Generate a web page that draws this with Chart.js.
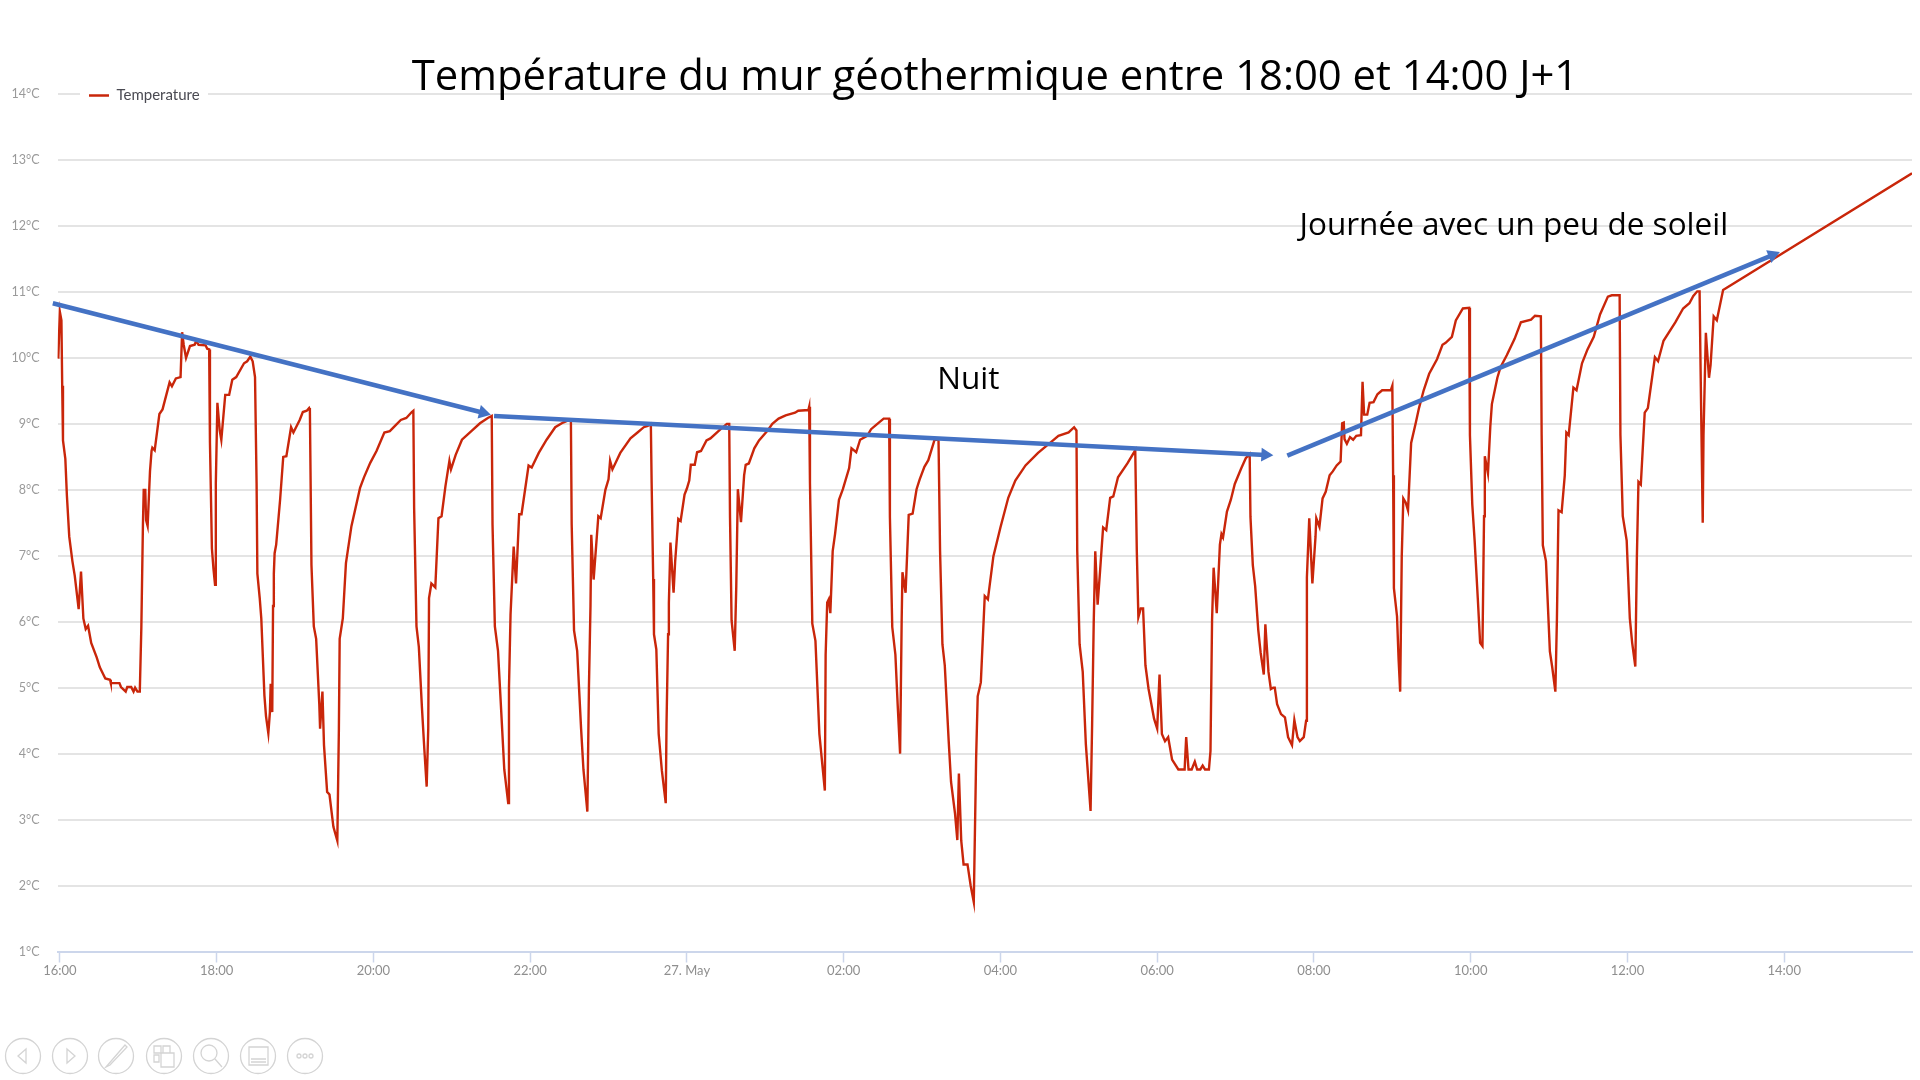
<!DOCTYPE html>
<html lang="fr">
<head>
<meta charset="utf-8">
<title>Température du mur géothermique</title>
<script src="https://cdn.jsdelivr.net/npm/chart.js@4"></script>
<style>
    html, body { margin: 0; padding: 0; background: #fff; }
    canvas { display: block; }
</style>
</head>
<body>
<canvas id="wallChart" width="1920" height="1080"></canvas>
<script>
// Hours after 16:00 and the temperature read at each of them
const hours = [
    -0.02, 0.00, 0.02, 0.03, 0.04, 0.07, 0.09, 0.12, 0.16, 0.19, 0.24, 0.27, 0.30, 0.33, 0.36, 0.40, 0.47, 0.51, 0.58, 0.64,
    0.65, 0.76, 0.78, 0.84, 0.86, 0.91, 0.94, 0.96, 0.99, 1.02, 1.04, 1.06, 1.07, 1.09, 1.10, 1.12, 1.15, 1.17, 1.18, 1.21,
    1.27, 1.31, 1.40, 1.43, 1.48, 1.54, 1.56, 1.58, 1.61, 1.66, 1.72, 1.74, 1.77, 1.86, 1.88, 1.905, 1.915, 1.94, 1.96, 1.98,
    1.99, 2.01, 2.04, 2.06, 2.11, 2.16, 2.20, 2.25, 2.35, 2.39, 2.43, 2.46, 2.49, 2.51, 2.52, 2.55, 2.57, 2.61, 2.63, 2.66,
    2.68, 2.69, 2.71, 2.72, 2.73, 2.74, 2.76, 2.81, 2.85, 2.89, 2.95, 2.98, 3.06, 3.10, 3.15, 3.18, 3.19, 3.21, 3.24, 3.27,
    3.31, 3.32, 3.35, 3.37, 3.41, 3.44, 3.49, 3.54, 3.56, 3.57, 3.61, 3.65, 3.72, 3.83, 3.88, 3.96, 4.04, 4.14, 4.21, 4.26,
    4.35, 4.42, 4.49, 4.51, 4.52, 4.55, 4.58, 4.62, 4.65, 4.68, 4.70, 4.71, 4.74, 4.79, 4.83, 4.87, 4.92, 4.97, 4.99, 5.05,
    5.13, 5.25, 5.36, 5.46, 5.51, 5.52, 5.55, 5.59, 5.64, 5.67, 5.72, 5.73, 5.75, 5.79, 5.82, 5.86, 5.89, 5.98, 6.02, 6.11,
    6.21, 6.32, 6.42, 6.50, 6.52, 6.53, 6.56, 6.60, 6.65, 6.68, 6.73, 6.75, 6.77, 6.78, 6.81, 6.87, 6.90, 6.96, 7.00, 7.02,
    7.05, 7.15, 7.28, 7.37, 7.45, 7.50, 7.54, 7.55, 7.57, 7.58, 7.61, 7.64, 7.68, 7.73, 7.74, 7.76, 7.77, 7.79, 7.83, 7.85,
    7.89, 7.92, 7.97, 8.00, 8.03, 8.05, 8.10, 8.13, 8.18, 8.25, 8.30, 8.43, 8.51, 8.54, 8.55, 8.57, 8.61, 8.63, 8.65, 8.69,
    8.73, 8.75, 8.79, 8.86, 8.92, 9.03, 9.09, 9.17, 9.26, 9.38, 9.42, 9.55, 9.56, 9.57, 9.60, 9.64, 9.69, 9.76, 9.77, 9.79,
    9.81, 9.83, 9.86, 9.89, 9.94, 9.99, 10.07, 10.10, 10.16, 10.21, 10.30, 10.35, 10.43, 10.51, 10.58, 10.59, 10.62, 10.66, 10.69, 10.72,
    10.74, 10.75, 10.79, 10.83, 10.88, 10.93, 10.97, 11.03, 11.08, 11.16, 11.21, 11.23, 11.26, 11.29, 11.34, 11.37, 11.42, 11.45, 11.47, 11.50,
    11.53, 11.58, 11.62, 11.66, 11.69, 11.71, 11.75, 11.80, 11.84, 11.91, 12.00, 12.10, 12.19, 12.32, 12.48, 12.66, 12.74, 12.87, 12.94, 12.97,
    12.98, 13.01, 13.05, 13.09, 13.15, 13.17, 13.19, 13.21, 13.24, 13.27, 13.31, 13.35, 13.40, 13.44, 13.50, 13.62, 13.72, 13.74, 13.76, 13.79,
    13.82, 13.85, 13.89, 13.96, 14.00, 14.03, 14.06, 14.10, 14.14, 14.19, 14.27, 14.35, 14.37, 14.40, 14.44, 14.48, 14.51, 14.55, 14.58, 14.61,
    14.66, 14.68, 14.70, 14.72, 14.76, 14.80, 14.82, 14.84, 14.89, 14.94, 14.99, 15.07, 15.13, 15.18, 15.19, 15.22, 15.25, 15.29, 15.32, 15.36,
    15.38, 15.42, 15.45, 15.48, 15.50, 15.53, 15.58, 15.63, 15.67, 15.72, 15.75, 15.79, 15.82, 15.87, 15.90, 15.91, 15.94, 15.98, 16.02, 16.03,
    16.07, 16.11, 16.15, 16.20, 16.24, 16.29, 16.34, 16.36, 16.38, 16.39, 16.42, 16.46, 16.50, 16.54, 16.60, 16.62, 16.64, 16.68, 16.71, 16.76,
    16.81, 16.87, 16.98, 17.00, 17.01, 17.02, 17.06, 17.08, 17.10, 17.12, 17.14, 17.17, 17.20, 17.24, 17.30, 17.34, 17.40, 17.47, 17.57, 17.64,
    17.68, 17.76, 17.81, 17.90, 17.98, 17.99, 18.02, 18.05, 18.09, 18.12, 18.15, 18.17, 18.18, 18.22, 18.25, 18.27, 18.34, 18.38, 18.46, 18.56,
    18.64, 18.77, 18.82, 18.895, 18.905, 18.92, 18.96, 19.01, 19.04, 19.08, 19.10, 19.12, 19.16, 19.20, 19.22, 19.25, 19.31, 19.35, 19.42, 19.49,
    19.57, 19.65, 19.75, 19.80, 19.90, 19.91, 19.94, 19.99, 20.03, 20.06, 20.10, 20.12, 20.14, 20.17, 20.22, 20.26, 20.35, 20.39, 20.46, 20.61,
    20.71, 20.79, 20.84, 20.89, 20.92, 20.93, 20.96, 20.97, 21.00, 21.04, 21.06, 21.10, 21.14, 21.22, 23.63
];
const temperature = [
    9.99, 10.70, 10.57, 9.58, 8.75, 8.47, 7.91, 7.29, 6.92, 6.70, 6.19, 6.76, 6.05, 5.89, 5.94, 5.68, 5.46, 5.31, 5.14, 5.12,
    5.07, 5.07, 5.01, 4.94, 5.01, 5.01, 4.94, 5.00, 4.94, 4.94, 5.93, 7.48, 8.00, 8.00, 7.54, 7.45, 8.28, 8.59, 8.64, 8.60,
    9.15, 9.22, 9.63, 9.57, 9.69, 9.71, 10.39, 10.20, 10.00, 10.18, 10.20, 10.26, 10.20, 10.19, 10.14, 10.13, 8.72, 7.11, 6.80, 6.56,
    8.10, 9.32, 8.90, 8.76, 9.44, 9.44, 9.67, 9.71, 9.92, 9.95, 10.02, 9.95, 9.71, 8.10, 6.73, 6.36, 6.05, 4.88, 4.57, 4.31,
    4.63, 5.06, 4.63, 6.24, 6.73, 7.04, 7.17, 7.85, 8.50, 8.51, 8.95, 8.87, 9.06, 9.18, 9.20, 9.24, 9.21, 6.86, 5.93, 5.74,
    4.75, 4.38, 4.94, 4.13, 3.42, 3.38, 2.89, 2.68, 4.38, 5.74, 6.05, 6.89, 7.45, 8.03, 8.19, 8.41, 8.59, 8.87, 8.89, 8.95,
    9.06, 9.09, 9.18, 9.20, 7.72, 5.93, 5.62, 4.69, 4.07, 3.50, 4.38, 6.36, 6.58, 6.52, 7.57, 7.60, 8.06, 8.44, 8.31, 8.53,
    8.76, 8.89, 9.01, 9.09, 9.12, 7.48, 5.93, 5.56, 4.44, 3.76, 3.25, 5.00, 6.11, 7.14, 6.58, 7.63, 7.63, 8.37, 8.34, 8.56,
    8.76, 8.95, 9.02, 9.06, 9.06, 7.48, 5.87, 5.56, 4.38, 3.76, 3.12, 5.00, 6.24, 7.32, 6.64, 7.60, 7.57, 8.00, 8.16, 8.44,
    8.31, 8.56, 8.78, 8.87, 8.95, 8.97, 9.00, 8.11, 6.65, 5.81, 5.58, 4.30, 3.75, 3.25, 4.45, 5.81, 6.28, 7.20, 6.44, 6.91,
    7.56, 7.53, 7.93, 8.02, 8.14, 8.38, 8.38, 8.57, 8.59, 8.75, 8.78, 8.92, 9.00, 9.00, 7.59, 6.02, 5.56, 6.54, 8.01, 7.51,
    8.22, 8.38, 8.40, 8.63, 8.75, 8.90, 9.00, 9.08, 9.13, 9.17, 9.20, 9.21, 9.26, 8.11, 5.97, 5.71, 4.30, 3.44, 5.50, 6.29,
    6.34, 6.13, 7.07, 7.33, 7.85, 8.01, 8.33, 8.63, 8.57, 8.76, 8.82, 8.92, 9.00, 9.08, 9.08, 7.59, 5.92, 5.50, 4.72, 4.00,
    6.02, 6.75, 6.44, 7.62, 7.64, 8.01, 8.16, 8.35, 8.45, 8.76, 8.76, 7.07, 5.66, 5.34, 4.19, 3.57, 3.10, 2.69, 3.70, 2.68,
    2.32, 2.32, 2.00, 1.75, 3.93, 4.87, 5.08, 6.39, 6.34, 6.99, 7.43, 7.88, 8.14, 8.37, 8.56, 8.74, 8.82, 8.87, 8.95, 8.90,
    7.07, 5.66, 5.24, 4.14, 3.13, 4.45, 5.97, 7.07, 6.26, 6.75, 7.43, 7.39, 7.88, 7.90, 8.19, 8.40, 8.60, 7.07, 6.07, 6.20,
    6.20, 5.34, 4.98, 4.53, 4.38, 5.20, 4.30, 4.19, 4.25, 3.91, 3.76, 3.76, 4.25, 3.76, 3.76, 3.88, 3.76, 3.76, 3.82, 3.76,
    3.76, 4.04, 6.02, 6.82, 6.13, 7.17, 7.33, 7.28, 7.67, 7.85, 8.09, 8.32, 8.48, 8.54, 7.59, 6.86, 6.54, 5.87, 5.53, 5.20,
    5.96, 5.24, 4.98, 5.00, 5.00, 4.75, 4.60, 4.55, 4.25, 4.13, 4.51, 4.25, 4.19, 4.25, 4.50, 6.67, 7.57, 6.58, 7.29, 7.57,
    7.44, 7.87, 7.97, 8.22, 8.28, 8.37, 8.43, 9.01, 9.02, 8.77, 8.70, 8.80, 8.76, 8.82, 8.83, 9.64, 9.14, 9.14, 9.32, 9.33,
    9.45, 9.51, 9.51, 9.58, 8.22, 6.51, 6.08, 5.43, 4.94, 6.98, 7.87, 7.81, 7.69, 8.71, 9.02, 9.24, 9.51, 9.76, 9.98, 10.20,
    10.23, 10.32, 10.57, 10.75, 10.76, 8.83, 7.78, 7.23, 6.36, 5.68, 5.63, 7.60, 8.51, 8.25, 8.96, 9.30, 9.70, 9.86, 10.04, 10.29,
    10.54, 10.58, 10.64, 10.63, 8.83, 7.16, 6.92, 5.55, 5.31, 4.94, 6.05, 7.69, 7.66, 8.22, 8.87, 8.83, 9.55, 9.51, 9.92, 10.13,
    10.32, 10.66, 10.93, 10.95, 10.95, 8.83, 7.60, 7.23, 6.05, 5.68, 5.32, 6.98, 8.12, 8.08, 9.17, 9.24, 10.01, 9.95, 10.26, 10.54,
    10.75, 10.83, 10.94, 11.01, 11.01, 10.07, 7.50, 8.83, 10.38, 9.70, 9.89, 10.63, 10.57, 11.03, 12.80
];

// Blue arrows, start and end of each
const nightStartHours = [-0.09, 5.40];
const nightStartTemps = [10.83, 9.17];
const nightEndHours = [5.54, 15.38];
const nightEndTemps = [9.12, 8.53];
const dayHours = [15.66, 21.85];
const dayTemps = [8.52, 11.56];

const tickHours = [0, 2, 4, 6, 8, 10, 12, 14, 16, 18, 20, 22];
const tickLabels = ['16:00', '18:00', '20:00', '22:00', '27. May', '02:00', '04:00', '06:00', '08:00', '10:00', '12:00', '14:00'];

const noteTexts = ['Nuit', 'Journée avec un peu de soleil'];
const noteHours = [11.59, 18.55];
const noteTemps = [9.66, 12.00];

const toolbarX = [23, 70, 116, 164, 211, 258, 305];

const RED = '#c9260a';
const BLUE = '#4472c4';
const SLIDE_FONT = '"Open Sans", sans-serif';
const CHART_FONT = 'Lato, sans-serif';

function toPoints(xs, ys) {
    return xs.map((x, i) => ({ x: x, y: ys[i] }));
}

function arrowDataset(xs, ys, rotation) {
    return {
        label: 'arrow',
        data: toPoints(xs, ys),
        borderColor: BLUE,
        backgroundColor: BLUE,
        borderWidth: 4.5,
        pointStyle: 'triangle',
        pointRadius: [0, 8],
        pointBorderWidth: 0,
        pointRotation: rotation,
        pointBackgroundColor: BLUE,
        clip: false,
        order: 0
    };
}

// Toolbar of the slide show, bottom left
function drawToolbar(ctx) {
    ctx.save();
    ctx.strokeStyle = '#d4d4d4';
    ctx.lineWidth = 1.3;
    const y = 1056;
    toolbarX.forEach((x, i) => {
        ctx.beginPath();
        ctx.ellipse(x, y, 17.5, 17.5, 0, 0, Math.PI * 2);
        ctx.stroke();
        ctx.beginPath();
        if (i === 0) {
            ctx.moveTo(x + 3, y - 7); ctx.lineTo(x - 5, y); ctx.lineTo(x + 3, y + 7); ctx.closePath();
        } else if (i === 1) {
            ctx.moveTo(x - 3, y - 7); ctx.lineTo(x + 5, y); ctx.lineTo(x - 3, y + 7); ctx.closePath();
        } else if (i === 2) {
            ctx.moveTo(x - 10, y + 11); ctx.lineTo(x + 9, y - 11); ctx.lineTo(x + 11, y - 9); ctx.lineTo(x - 6, y + 9); ctx.closePath();
        } else if (i === 3) {
            ctx.rect(x - 10, y - 10, 7, 7); ctx.rect(x - 1, y - 10, 7, 7); ctx.rect(x - 10, y - 1, 5, 7); ctx.rect(x - 3, y - 3, 13, 14);
        } else if (i === 4) {
            ctx.arc(x - 2, y - 3, 8, 0, Math.PI * 2); ctx.moveTo(x + 4, y + 3); ctx.lineTo(x + 11, y + 11);
        } else if (i === 5) {
            ctx.rect(x - 9, y - 9, 19, 18); ctx.moveTo(x - 7, y + 3); ctx.lineTo(x + 8, y + 3); ctx.moveTo(x - 7, y + 6); ctx.lineTo(x + 8, y + 6);
        } else {
            [-6, 0, 6].forEach(d => { ctx.moveTo(x + d + 2, y); ctx.arc(x + d, y, 2, 0, Math.PI * 2); });
        }
        ctx.stroke();
    });
    ctx.restore();
}

const slidePlugin = {
    id: 'slidePlugin',
    afterLayout(chart) {
        // title and legend sit over the plot in the original
        const title = chart.titleBlock;
        title.left += 35;
        title.right += 35;
        title.top += 9;
        title.bottom += 9;
        const legend = chart.legend;
        const w = legend.width;
        legend.left = 79;
        legend.right = 79 + w;
        legend.top = 78;
        legend.bottom = 78 + legend.height;
    },
    beforeDatasetsDraw(chart) {
        const ctx = chart.ctx;
        ctx.save();
        ctx.fillStyle = '#fff';
        ctx.fillRect(80, 86, 128, 18);
        ctx.restore();
        chart.legend.draw();
    },
    afterDraw(chart) {
        const ctx = chart.ctx;
        ctx.save();
        ctx.font = '31.5px ' + SLIDE_FONT;
        ctx.fillStyle = '#000';
        ctx.textAlign = 'center';
        ctx.textBaseline = 'middle';
        noteTexts.forEach((text, i) => {
            ctx.fillText(text, chart.scales.x.getPixelForValue(noteHours[i]), chart.scales.y.getPixelForValue(noteTemps[i]));
        });
        ctx.restore();
        drawToolbar(ctx);
    }
};

const chart = new Chart(document.getElementById('wallChart').getContext('2d'), {
    type: 'line',
    data: {
        datasets: [
            arrowDataset(nightStartHours, nightStartTemps, 104),
            arrowDataset(nightEndHours, nightEndTemps, 93),
            arrowDataset(dayHours, dayTemps, 68),
            {
                label: 'Temperature',
                data: toPoints(hours, temperature),
                borderColor: RED,
                backgroundColor: RED,
                borderWidth: 2.4,
                pointRadius: 0,
                tension: 0,
                order: 1
            }
        ]
    },
    options: {
        responsive: false,
        animation: false,
        layout: { padding: { top: 44, left: 0, right: 0, bottom: 0 } },
        plugins: {
            title: {
                display: true,
                text: 'Température du mur géothermique entre 18:00 et 14:00 J+1',
                color: '#000',
                padding: 0,
                font: { family: SLIDE_FONT, size: 41.8, weight: 'normal', lineHeight: 1.2 }
            },
            legend: {
                position: 'chartArea',
                align: 'start',
                labels: {
                    color: '#4a4a52',
                    font: { family: CHART_FONT, size: 15 },
                    usePointStyle: true,
                    pointStyle: 'line',
                    pointStyleWidth: 20,
                    boxHeight: 2,
                    padding: 10,
                    filter: item => item.text === 'Temperature'
                }
            },
            tooltip: { enabled: false }
        },
        scales: {
            x: {
                type: 'linear',
                min: -0.03,
                max: 23.63,
                afterBuildTicks: scale => { scale.ticks = tickHours.map(v => ({ value: v })); },
                afterFit: scale => { scale.height = 128.5; },
                grid: { drawOnChartArea: false, color: '#ccd6eb', tickLength: 11, tickWidth: 1.5 },
                border: { color: '#ccd6eb', width: 2 },
                ticks: {
                    autoSkip: false,
                    maxRotation: 0,
                    padding: 1,
                    color: '#8f8f8f',
                    font: { family: CHART_FONT, size: 13 },
                    callback: value => tickLabels[tickHours.indexOf(value)]
                }
            },
            y: {
                min: 1,
                max: 14,
                afterFit: scale => { scale.width = 57.5; },
                grid: { color: '#e4e4e4', lineWidth: 2, drawTicks: false },
                border: { display: false },
                ticks: {
                    stepSize: 1,
                    padding: 18,
                    color: '#9a9a9a',
                    font: { family: CHART_FONT, size: 12.5 },
                    callback: value => value + '°C'
                }
            }
        }
    },
    plugins: [slidePlugin]
});
</script>
</body>
</html>
